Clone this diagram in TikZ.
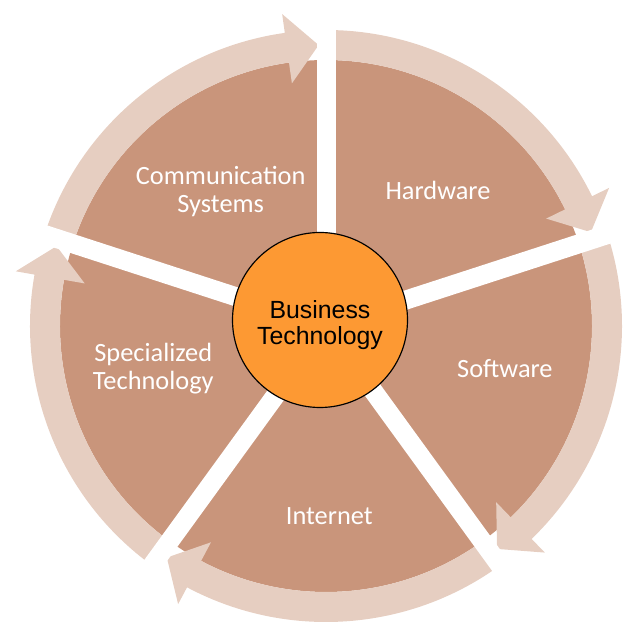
\documentclass[tikz,border=0pt]{standalone}
\usepackage{fontspec}
\setmainfont{Liberation Sans}
\newfontfamily\wedgefont{Carlito}
\definecolor{wedgebrown}{RGB}{201,149,123}
\definecolor{bandpink}{RGB}{230,206,193}
\definecolor{huborange}{RGB}{253,153,51}
\tikzset{
  divider/.style={white, line width=0.57cm},
  wedgelabel/.style={text=white, align=center, font=\wedgefont\fontsize{22.5}{24}\selectfont},
  hub/.style={circle, draw, line width=1pt, fill=huborange, minimum size=5.25cm},
  hubtext/.style={align=center, font=\fontsize{21.2}{22.2}\selectfont}
}
\begin{document}
\begin{tikzpicture}[x=0.03cm, y=0.03cm]
  \useasboundingbox (0,0) rectangle (640,622);
  \begin{scope}[shift={(326,296)}]
    \coordinate (c) at (0,0);
    % Wedges
    \foreach \a in {90,18,-54,-126,162}
    \fill[wedgebrown] (c) -- (\a:266) arc[start angle=\a, end angle=\a-72, radius=266] -- cycle;

    % Arrows
    \foreach \a in {90,18,-54,-126,162} {
      \pgfmathsetmacro\tip{\a-72+1.5}
      \pgfmathsetmacro\head{\tip+6.5}
      \fill[bandpink] (\a:266) arc[start angle=\a, end angle=\head, radius=266]
        -- (\head:245) -- (\tip:281) -- (\head:315) -- (\head:296)
        arc[start angle=\head, end angle=\a, radius=296] -- cycle;
    }

    % Dividers
    \foreach \a [count=\i] in {90,18,-54,-126,162} {
      \coordinate (S\i) at (\a:330);
      \draw[divider] (c) -- (S\i);
    }

    % Labels
    \foreach \pos/\txt [count=\i] in {50.5:176/Hardware, -13.5:184/Software, -89:190/Internet,
        -166:178/{Specialized\\Technology}, 128:171/{Communication\\Systems}}
    \node[wedgelabel] (L\i) at (\pos) {\txt};

    \node[hub] (B) at (-6,6) {};
    \node[hubtext] (BT) at (-6,1) {Business\\Technology};
  \end{scope}
\end{tikzpicture}
\end{document}
